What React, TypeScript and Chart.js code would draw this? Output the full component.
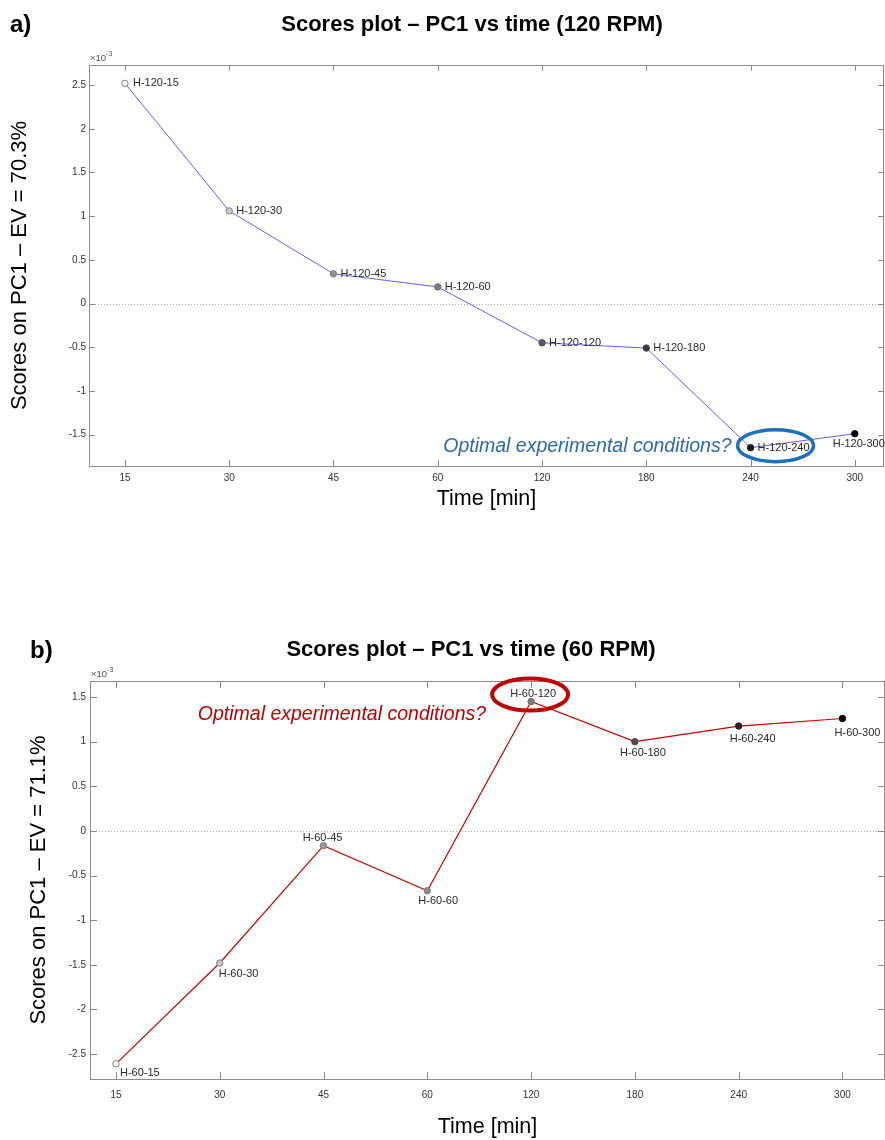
import React, { useEffect, useRef } from "react";
import { Chart, registerables } from "chart.js";

Chart.register(...registerables);

// ---------- data (scores in units of ×10^-3) ----------
const timeLabels = ["15", "30", "45", "60", "120", "180", "240", "300"];
const yTicksA = [-1.5, -1, -0.5, 0, 0.5, 1, 1.5, 2, 2.5];
const yTicksB = [-2.5, -2, -1.5, -1, -0.5, 0, 0.5, 1, 1.5];
const scoresA = [2.52, 1.06, 0.34, 0.19, -0.45, -0.51, -1.65, -1.49];
const scoresB = [-2.61, -1.48, -0.165, -0.67, 1.45, 1.0, 1.175, 1.26];
const namesA = ["H-120-15", "H-120-30", "H-120-45", "H-120-60", "H-120-120", "H-120-180", "H-120-240", "H-120-300"];
const namesB = ["H-60-15", "H-60-30", "H-60-45", "H-60-60", "H-60-120", "H-60-180", "H-60-240", "H-60-300"];

// ---------- styles ----------
const FONT = "'Liberation Sans', Arial, sans-serif";
const fillsA = ["#ffffff", "#c8c8c8", "#8c8c8c", "#7a7a7a", "#5a5a5a", "#3c3c3c", "#1a1a1a", "#000000"];
const bordersA = ["#808080", "#808080", "#808080", "#6e6e6e", "#505050", "#3c3c3c", "#1a1a1a", "#000000"];
const fillsB = ["#ffffff", "#c8c8c8", "#9a9a9a", "#8a8a8a", "#7a7a7a", "#4a4a4a", "#222222", "#000000"];
const bordersB = ["#808080", "#808080", "#808080", "#808080", "#6a6a6a", "#4a4a4a", "#222222", "#000000"];

type LabelPos = { dx: number; dy: number; align: CanvasTextAlign };

const labelPosA: LabelPos[] = [
  { dx: 8, dy: 0, align: "left" },
  { dx: 7, dy: 0, align: "left" },
  { dx: 7, dy: 0, align: "left" },
  { dx: 7, dy: 0, align: "left" },
  { dx: 7, dy: 0, align: "left" },
  { dx: 7, dy: 0, align: "left" },
  { dx: 7, dy: 0, align: "left" },
  { dx: 4, dy: 10, align: "center" },
];
const labelPosB: LabelPos[] = [
  { dx: 4, dy: 9, align: "left" },
  { dx: -1, dy: 11, align: "left" },
  { dx: -1, dy: -8, align: "center" },
  { dx: -9, dy: 10, align: "left" },
  { dx: 2, dy: -8, align: "center" },
  { dx: 8, dy: 11, align: "center" },
  { dx: 14, dy: 13, align: "center" },
  { dx: 15, dy: 14, align: "center" },
];

type PanelCfg = {
  letter: string;
  title: string;
  yTitle: string;
  values: number[];
  names: string[];
  yTicks: number[];
  yMin: number;
  yMax: number;
  xMin: number;
  xMax: number;
  lineColor: string;
  lineWidth: number;
  fills: string[];
  borders: string[];
  labelPos: LabelPos[];
  padTop: number;
  padRight: number;
  yWidth: number;
  xHeight: number;
  xTitlePad: number;
  yTitlePad: number;
  xTickPad: number;
  yTickPad: number;
  tickLen: number;
  titleX: number;
  titleY: number;
  letterX: number;
  letterY: number;
  highlight: number;
  ellipseDx: number;
  ellipseDy: number;
  ellipseColor: string;
  ellipseWidth: number;
  note: string;
  noteColor: string;
  noteDy: number;
};

const panelA: PanelCfg = {
  letter: "a)",
  title: "Scores plot – PC1 vs time (120 RPM)",
  yTitle: "Scores on PC1 – EV = 70.3%",
  values: scoresA,
  names: namesA,
  yTicks: yTicksA,
  yMin: -1.86,
  yMax: 2.73,
  xMin: -0.345,
  xMax: 7.28,
  lineColor: "#6262ff",
  lineWidth: 1,
  fills: fillsA,
  borders: bordersA,
  labelPos: labelPosA,
  padTop: 65,
  padRight: 1,
  yWidth: 89,
  xHeight: 104,
  xTitlePad: 58,
  yTitlePad: 7,
  xTickPad: 6,
  yTickPad: 3,
  tickLen: 6,
  titleX: 472,
  titleY: 25,
  letterX: 10,
  letterY: 25,
  highlight: 6,
  ellipseDx: 25,
  ellipseDy: -2,
  ellipseColor: "#1c70c0",
  ellipseWidth: 3.5,
  note: "Optimal experimental conditions?",
  noteColor: "#2c68ad",
  noteDy: 6,
};

const panelB: PanelCfg = {
  letter: "b)",
  title: "Scores plot – PC1 vs time (60 RPM)",
  yTitle: "Scores on PC1 – EV = 71.1%",
  values: scoresB,
  names: namesB,
  yTicks: yTicksB,
  yMin: -2.78,
  yMax: 1.68,
  xMin: -0.25,
  xMax: 7.41,
  lineColor: "#cc0000",
  lineWidth: 1.2,
  fills: fillsB,
  borders: bordersB,
  labelPos: labelPosB,
  padTop: 111,
  padRight: 0,
  yWidth: 90,
  xHeight: 61,
  xTitlePad: 0,
  yTitlePad: 26,
  xTickPad: 10,
  yTickPad: 4,
  tickLen: 7,
  titleX: 471,
  titleY: 80,
  letterX: 30,
  letterY: 81,
  highlight: 4,
  ellipseDx: -1,
  ellipseDy: -7,
  ellipseColor: "#c00000",
  ellipseWidth: 4,
  note: "Optimal experimental conditions?",
  noteColor: "#c00000",
  noteDy: 25,
};

function makeDeco(cfg: PanelCfg) {
  return {
    id: "deco",
    beforeDatasetsDraw(chart: any) {
      const { ctx, chartArea: a, scales } = chart;
      const y0 = scales.y.getPixelForValue(0);
      ctx.save();
      ctx.strokeStyle = "#a8a8a8";
      ctx.lineWidth = 1;
      ctx.setLineDash([1, 2]);
      ctx.beginPath();
      ctx.moveTo(a.left, Math.round(y0) + 0.5);
      ctx.lineTo(a.right, Math.round(y0) + 0.5);
      ctx.stroke();
      ctx.restore();
    },
    afterDraw(chart: any) {
      const { ctx, chartArea: a, scales } = chart;
      ctx.save();
      // box
      ctx.strokeStyle = "#8c8c8c";
      ctx.lineWidth = 1;
      ctx.strokeRect(Math.round(a.left) + 0.5, Math.round(a.top) + 0.5, Math.round(a.right - a.left) - 1, Math.round(a.bottom - a.top));
      // inward ticks
      ctx.beginPath();
      const L = cfg.tickLen;
      for (let i = 0; i < timeLabels.length; i++) {
        const x = Math.round(scales.x.getPixelForValue(i)) + 0.5;
        ctx.moveTo(x, a.bottom);
        ctx.lineTo(x, a.bottom - L);
        ctx.moveTo(x, a.top);
        ctx.lineTo(x, a.top + L);
      }
      for (const v of cfg.yTicks) {
        const y = Math.round(scales.y.getPixelForValue(v)) + 0.5;
        ctx.moveTo(a.left, y);
        ctx.lineTo(a.left + L, y);
        ctx.moveTo(a.right, y);
        ctx.lineTo(a.right - L, y);
      }
      ctx.stroke();

      // ×10^-3
      ctx.fillStyle = "#555";
      ctx.textAlign = "left";
      ctx.textBaseline = "alphabetic";
      ctx.font = `9.5px ${FONT}`;
      ctx.fillText("×10", a.left + 1, a.top - 4);
      const w = ctx.measureText("×10").width;
      ctx.font = `7px ${FONT}`;
      ctx.fillText("-3", a.left + 1 + w, a.top - 9);

      // point labels
      const meta = chart.getDatasetMeta(0);
      ctx.fillStyle = "#2a2a2a";
      ctx.font = `11px ${FONT}`;
      ctx.textBaseline = "middle";
      meta.data.forEach((pt: any, i: number) => {
        const p = cfg.labelPos[i];
        ctx.textAlign = p.align;
        ctx.fillText(cfg.names[i], pt.x + p.dx, pt.y + p.dy);
      });

      // ellipse highlight
      const hp = meta.data[cfg.highlight];
      const cx = hp.x + cfg.ellipseDx;
      const cy = hp.y + cfg.ellipseDy;
      const rx = 38;
      const ry = 16;
      ctx.strokeStyle = cfg.ellipseColor;
      ctx.lineWidth = cfg.ellipseWidth;
      ctx.beginPath();
      ctx.ellipse(cx, cy, rx, ry, 0, 0, Math.PI * 2);
      ctx.stroke();

      // note
      ctx.fillStyle = cfg.noteColor;
      ctx.font = `italic 19.5px ${FONT}`;
      ctx.textAlign = "right";
      ctx.textBaseline = "alphabetic";
      ctx.fillText(cfg.note, cx - rx - 6, cy + cfg.noteDy);

      // title & panel letter
      ctx.fillStyle = "#000";
      ctx.font = `bold 22px ${FONT}`;
      ctx.textAlign = "center";
      ctx.textBaseline = "middle";
      ctx.fillText(cfg.title, cfg.titleX, cfg.titleY);
      ctx.font = `bold 24px ${FONT}`;
      ctx.textAlign = "left";
      ctx.fillText(cfg.letter, cfg.letterX, cfg.letterY);
      ctx.restore();
    },
  };
}

function Panel({ cfg, top }: { cfg: PanelCfg; top: number }) {
  const ref = useRef<HTMLCanvasElement>(null);
  useEffect(() => {
    if (!ref.current) return;
    const chart = new Chart(ref.current, {
      type: "line",
      data: {
        datasets: [
          {
            data: cfg.values.map((v, i) => ({ x: i, y: v })),
            borderColor: cfg.lineColor,
            borderWidth: cfg.lineWidth,
            pointRadius: 3.2,
            pointBackgroundColor: cfg.fills,
            pointBorderColor: cfg.borders,
            pointBorderWidth: 1,
            tension: 0,
            fill: false,
          },
        ],
      },
      options: {
        responsive: false,
        animation: false,
        events: [],
        layout: { autoPadding: false, padding: { top: cfg.padTop, right: cfg.padRight, left: 0, bottom: 0 } },
        plugins: {
          legend: { display: false },
          tooltip: { enabled: false },
          title: { display: false },
        },
        scales: {
          x: {
            type: "linear",
            min: cfg.xMin,
            max: cfg.xMax,
            afterBuildTicks: (s: any) => {
              s.ticks = timeLabels.map((_, i) => ({ value: i }));
            },
            afterFit: (s: any) => {
              s.height = cfg.xHeight;
              s.paddingLeft = 0;
              s.paddingRight = 0;
            },
            ticks: {
              autoSkip: false,
              maxRotation: 0,
              padding: cfg.xTickPad,
              color: "#333",
              font: { size: 10, family: FONT },
              callback: (v: any) => timeLabels[Math.round(Number(v))],
            },
            grid: { display: false, drawTicks: false, tickLength: 0 },
            border: { display: false },
            title: {
              display: true,
              text: "Time [min]",
              color: "#000",
              font: { size: 21.5, family: FONT, lineHeight: 1.2 },
              padding: { top: 0, bottom: cfg.xTitlePad },
            },
          },
          y: {
            type: "linear",
            min: cfg.yMin,
            max: cfg.yMax,
            afterBuildTicks: (s: any) => {
              s.ticks = cfg.yTicks.map((v) => ({ value: v }));
            },
            afterFit: (s: any) => {
              s.width = cfg.yWidth;
              s.paddingTop = 0;
              s.paddingBottom = 0;
            },
            ticks: {
              padding: cfg.yTickPad,
              color: "#333",
              font: { size: 10, family: FONT },
              callback: (v: any) => String(Number(v)),
            },
            grid: { display: false, drawTicks: false, tickLength: 0 },
            border: { display: false },
            title: {
              display: true,
              text: cfg.yTitle,
              color: "#000",
              font: { size: 22, family: FONT, lineHeight: 1.2 },
              padding: { top: cfg.yTitlePad, bottom: 0 },
            },
          },
        },
      },
      plugins: [makeDeco(cfg)],
    } as any);
    return () => chart.destroy();
  }, []);
  return (
    <canvas
      ref={ref}
      width={885}
      height={570}
      style={{ position: "absolute", left: 0, top, width: 885, height: 570, display: "block" }}
    />
  );
}

export default function App() {
  return (
    <div style={{ position: "absolute", left: 0, top: 0, width: 885, height: 1140, background: "#fff" }}>
      <Panel cfg={panelA} top={0} />
      <Panel cfg={panelB} top={570} />
    </div>
  );
}
